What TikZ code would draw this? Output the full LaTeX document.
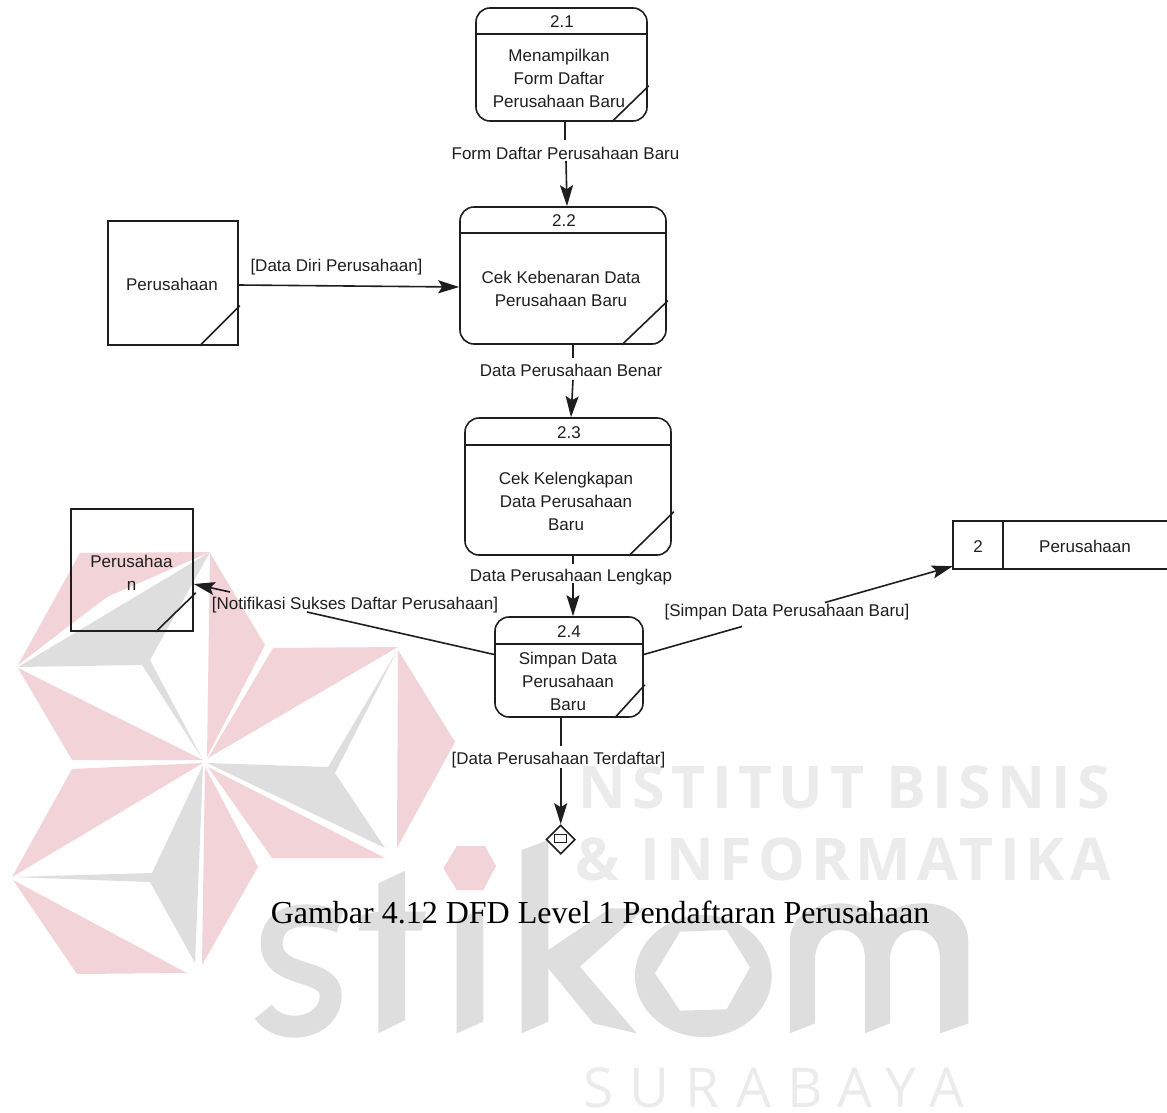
\documentclass[tikz,border=0pt]{standalone}
\usepackage{fontspec}
\setmainfont{Liberation Sans}
\newfontfamily\capfont{Liberation Serif}
\newfontfamily\wma[LetterSpace=11]{Open Sans}
\newfontfamily\wmb[LetterSpace=10]{Open Sans}
\newfontfamily\wms[LetterSpace=29.5]{Open Sans}
\usetikzlibrary{arrows.meta,shapes.geometric}
\definecolor{wmpink}{HTML}{F2D3D7}
\definecolor{wmgray}{HTML}{DEDEDE}
\definecolor{wmtext}{HTML}{EBEBEB}
\definecolor{ink}{HTML}{1E1E1E}
\tikzset{
  line/.style={draw=ink,line width=1.6pt},
  flow/.style={line,-{Stealth[length=21pt,width=13pt,inset=4pt]}},
  proc/.style={line,rectangle,rounded corners=14pt,inner sep=0pt},
  ext/.style={line,rectangle,inner sep=0pt},
  txt/.style={text=ink,inner sep=0pt,align=center,yshift=-0.8pt,font=\fontsize{17}{23}\selectfont},
  pk/.style={fill=wmpink,draw=none},
  gy/.style={fill=wmgray,draw=none}
}
\begin{document}
\begin{tikzpicture}[x=1pt,y=-1pt]
\useasboundingbox (0,0) rectangle (1167,1113);
% watermark star
\fill[pk] (80,553)--(210,552)--(107,597)--(70,625)--(18,665)--cycle;
\fill[gy] (210,552)--(18,667)--(142,665)--(203,760)--(150,660)--cycle;
\fill[pk] (18,668)--(203,760)--(72,760)--cycle;
\fill[pk] (210,553)--(265,645)--(207,757)--cycle;
\fill[pk] (273,648)--(398,647)--(208,758)--cycle;
\fill[gy] (398,649)--(328,767)--(207,763)--(385,848)--(335,773)--cycle;
\fill[pk] (398,650)--(455,742)--(397,848)--cycle;
\fill[pk] (208,767)--(385,858)--(272,858)--cycle;
\fill[pk] (72,769)--(203,763)--(12,877)--cycle;
\fill[gy] (203,765)--(152,873)--(12,877)--(150,882)--(195,963)--cycle;
\fill[pk] (205,767)--(258,867)--(202,965)--cycle;
\fill[pk] (13,880)--(187,973)--(77,974)--cycle;
% watermark letters
\begin{scope}[shift={(240,840)},x=0.33333pt,y=-0.33333pt]
\fill[pk] (650,18)--(735,18)--(768,78)--(730,150)--(650,150)--(610,85)--cycle;
\draw[wmgray,line width=22pt] (300,245) .. controls (180,205) and (95,230) .. (95,310) .. controls (95,420) and (272,380) .. (272,465) .. controls (272,570) and (120,590) .. (70,515);
\fill[gy] (415,130)--(495,92)--(495,215)--(558,215)--(545,272)--(495,272)--(495,540)--(415,580)--(415,272)--(355,272)--(365,225)--(415,215)--cycle;
\fill[gy] (650,240)--(730,205)--(730,545)--(650,580)--cycle;
\fill[gy] (845,30)--(925,0)--(925,330)--(1110,205)--(1215,205)--(1020,380)--(1190,580)--(1060,550)--(925,385)--(925,545)--(845,580)--cycle;
\end{scope}
\begin{scope}[shift={(600,880)},x=0.33333pt,y=-0.33333pt]
\fill[gy,even odd rule] (310,288) ellipse [x radius=205,y radius=183]
  (240,155)--(380,150)--(450,262)--(380,388)--(240,392)--(165,280)--cycle;
\fill[gy] (570,460)--(570,180) .. controls (570,110) and (640,70) .. (720,70) .. controls (770,70) and (810,90) .. (830,120) .. controls (860,90) and (910,70) .. (970,70) .. controls (1060,70) and (1105,120) .. (1105,190) -- (1105,430) -- (1020,460) -- (1020,240) .. controls (1020,180) and (990,150) .. (945,150) .. controls (900,150) and (870,190) .. (870,240) -- (870,430) -- (795,460) -- (795,240) .. controls (795,180) and (765,150) .. (720,150) .. controls (675,150) and (645,190) .. (645,240) -- (645,430) -- cycle;
\end{scope}
\node[anchor=base west,inner sep=0pt,text=wmtext,font=\wma\bfseries\fontsize{59}{59}\selectfont] (wm1) at (578,808) {NSTITUT BISNIS};
\node[anchor=base west,inner sep=0pt,text=wmtext,font=\wmb\bfseries\fontsize{59}{59}\selectfont] (wm2) at (575,880) {\& INFORMATIKA};
\node[anchor=base west,inner sep=0pt,text=wmtext,font=\wms\fontsize{55}{55}\selectfont] (wm3) at (583,1107) {SURABAYA};

% process boxes
\node[proc,minimum width=171pt,minimum height=113pt] (p1) at (561.5,64.5) {};
\node[proc,minimum width=206pt,minimum height=137pt] (p2) at (563,275.5) {};
\node[proc,minimum width=206pt,minimum height=137pt] (p3) at (568,486.5) {};
\node[proc,minimum width=148pt,minimum height=100pt] (p4) at (569,667) {};
\draw[line] ([yshift=-27pt]p1.north west) -- ([yshift=-27pt]p1.north east);
\draw[line] ([yshift=-27pt]p2.north west) -- ([yshift=-27pt]p2.north east);
\draw[line] ([yshift=-28pt]p3.north west) -- ([yshift=-28pt]p3.north east);
\draw[line] ([yshift=-28pt]p4.north west) -- ([yshift=-28pt]p4.north east);
\draw[line] ([xshift=-36pt]p1.south east) -- ([xshift=1pt,yshift=36pt]p1.south east);
\draw[line] ([xshift=-45pt]p2.south east) -- ([xshift=1pt,yshift=44pt]p2.south east);
\draw[line] ([xshift=-43pt]p3.south east) -- ([xshift=2pt,yshift=44pt]p3.south east);
\draw[line] ([xshift=-29pt]p4.south east) -- ([xshift=1pt,yshift=33pt]p4.south east);

% external entities
\node[ext,minimum width=130pt,minimum height=124pt] (e1) at (173,283) {};
\node[ext,minimum width=122pt,minimum height=122pt] (e2) at (132,570) {};
\draw[line] ([xshift=-39pt]e1.south east) -- ([xshift=1pt,yshift=40pt]e1.south east);
\draw[line] ([xshift=-38pt]e2.south east) -- ([xshift=2pt,yshift=39pt]e2.south east);

% data store
\node[inner sep=0pt,minimum width=214pt,minimum height=48pt] (ds) at (1060,545) {};
\draw[line] (ds.north east) -- (ds.north west) -- (ds.south west) -- (ds.south east);
\draw[line] ([xshift=50pt]ds.north west) -- ([xshift=50pt]ds.south west);

% off-page diamond
\node[diamond,aspect=1,line,inner sep=0pt,minimum width=29pt,minimum height=29pt] (d) at (560.7,839.5) {};
\node[draw=ink,line width=0.9pt,inner sep=0pt,minimum width=12pt,minimum height=8pt] (dr) at (560,838) {};

% connector break points
\coordinate (a1) at (565,140);
\coordinate (a2) at (566,161);
\coordinate (b1) at (573,358);
\coordinate (b2) at (573,380);
\coordinate (c1) at (573,564);
\coordinate (c2) at (573,583);
\coordinate (f1) at (307,612);
\coordinate (f2) at (230,592);
\coordinate (g1) at (742,626.5);
\coordinate (g2) at (825,602.5);
\coordinate (h1) at (560.7,746);
\coordinate (h2) at (560.7,768);

% connectors
\draw[line] ([xshift=3.5pt]p1.south) -- (a1);
\draw[flow] (a2) -- ([xshift=4pt]p2.north);
\draw[flow] ([yshift=-2pt]e1.east) -- ([yshift=-11.5pt]p2.west);
\draw[line] ([xshift=10pt]p2.south) -- (b1);
\draw[flow] (b2) -- ([xshift=3pt]p3.north);
\draw[line] ([xshift=5pt]p3.south) -- (c1);
\draw[flow] (c2) -- ([xshift=4pt]p4.north);
\draw[line] ([yshift=12.5pt]p4.west) -- (f1);
\draw[flow] (f2) -- ([yshift=-14pt]e2.east);
\draw[line] ([yshift=12.5pt]p4.east) -- (g1);
\draw[flow] (g2) -- ([yshift=3pt]ds.south west);
\draw[line] ([xshift=-8.3pt]p4.south) -- (h1);
\draw[flow] (h2) -- (d.north);

% texts
\node[txt] (t1a) at (562,21) {2.1};
\node[txt] (t1b) at (559,78) {Menampilkan\\Form Daftar\\Perusahaan Baru};
\node[txt] (t2a) at (564,220) {2.2};
\node[txt] (t2b) at (561,288.5) {Cek Kebenaran Data\\Perusahaan Baru};
\node[txt] (t3a) at (569,432) {2.3};
\node[txt] (t3b) at (566,501) {Cek Kelengkapan\\Data Perusahaan\\Baru};
\node[txt] (t4a) at (569,631) {2.4};
\node[txt] (t4b) at (568,681) {Simpan Data\\Perusahaan\\Baru};
\node[txt] (te1) at (172,284) {Perusahaan};
\node[txt] (te2) at (131.5,572) {Perusahaa\\n};
\node[txt] (ts1) at (978,546) {2};
\node[txt] (ts2) at (1085,546) {Perusahaan};
\node[txt] (l1) at (565.5,153) {Form Daftar Perusahaan Baru};
\node[txt] (l2) at (336.5,266) {[Data Diri Perusahaan]};
\node[txt] (l3) at (571,370) {Data Perusahaan Benar};
\node[txt] (l4) at (571,576) {Data Perusahaan Lengkap};
\node[txt] (l5) at (355,604) {[Notifikasi Sukses Daftar Perusahaan]};
\node[txt] (l6) at (787,611) {[Simpan Data Perusahaan Baru]};
\node[txt] (l7) at (558.5,759) {[Data Perusahaan Terdaftar]};
\node[text=black,inner sep=0pt,font=\capfont\fontsize{32}{32}\selectfont] (cap) at (600,912) {Gambar 4.12 DFD Level 1 Pendaftaran Perusahaan};
\end{tikzpicture}
\end{document}
